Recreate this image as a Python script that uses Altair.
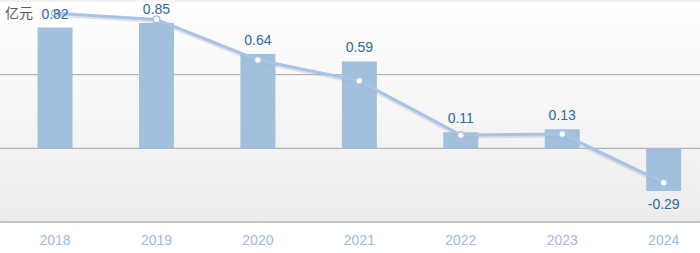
import altair as alt
import pandas as pd

years = ["2018", "2019", "2020", "2021", "2022", "2023", "2024"]
bar_values = [0.82, 0.85, 0.64, 0.59, 0.11, 0.13, -0.29]
line_values = [0.917, 0.875, 0.60, 0.458, 0.09, 0.097, -0.233]
labels = ["0.82", "0.85", "0.64", "0.59", "0.11", "0.13", "-0.29"]
grid_values = [0.5, 0.0, -0.5]
top_value = [1.0]
unit_label = "亿元"

df = pd.DataFrame({"year": years, "bar": bar_values, "line": line_values, "label": labels})
grid_df = pd.DataFrame({"g": grid_values})
top_df = pd.DataFrame({"g": top_value})

FONT = "Liberation Sans"

x_enc = alt.X(
    "year:N",
    sort=years,
    scale=alt.Scale(range=[4.3, 714.4], paddingInner=0.655, paddingOuter=0.3275),
    axis=alt.Axis(
        title=None, domain=False, ticks=False, labelAngle=0, labelPadding=11,
        labelBaseline="top", labelColor="#a2b9de", labelFontSize=14, labelFont=FONT,
    ),
)
y_scale = alt.Scale(domain=[-0.5, 1.0], nice=False, zero=False)
y_enc = alt.Y("bar:Q", scale=y_scale, axis=None)

base = alt.Chart(df)

bg = alt.Chart(top_df).mark_rect(
    color=alt.Gradient(
        gradient="linear",
        stops=[alt.GradientStop(color="#ffffff", offset=0), alt.GradientStop(color="#ececec", offset=1)],
        x1=0, x2=0, y1=0, y2=1,
    )
).encode(
    x=alt.value(0), x2=alt.value("width"),
    y=alt.Y("g:Q", scale=y_scale, axis=None), y2=alt.datum(-0.5),
)

top_rule = alt.Chart(top_df).mark_rule(color="#e6e6e6", strokeWidth=1).encode(
    y=alt.Y("g:Q", scale=y_scale, axis=None), x=alt.value(0), x2=alt.value("width")
)
grid = alt.Chart(grid_df).mark_rule(color="#a6a6a6", strokeWidth=1).encode(
    y=alt.Y("g:Q", scale=y_scale, axis=None), x=alt.value(0), x2=alt.value("width")
)

bars = base.mark_bar(color="#a0c0de").encode(x=x_enc, y=y_enc, y2=alt.datum(0))

line_shadow = base.mark_line(color="#b0b0b0", strokeWidth=3, opacity=0.35, yOffset=2).encode(
    x=x_enc, y=alt.Y("line:Q", scale=y_scale, axis=None)
)
line = base.mark_line(color="#a8c3ea", strokeWidth=3).encode(
    x=x_enc, y=alt.Y("line:Q", scale=y_scale, axis=None)
)
points = base.mark_point(filled=True, fill="white", stroke="#a8c3ea", strokeWidth=1.5, size=45, opacity=1).encode(
    x=x_enc, y=alt.Y("line:Q", scale=y_scale, axis=None)
)

pos_text = base.transform_filter(alt.datum.bar >= 0).mark_text(
    baseline="bottom", dy=-6, color="#2b6a9f", fontSize=14, font=FONT
).encode(x=x_enc, y=y_enc, text="label:N")
neg_text = base.transform_filter(alt.datum.bar < 0).mark_text(
    baseline="top", dy=7, color="#2b6a9f", fontSize=14, font=FONT
).encode(x=x_enc, y=y_enc, text="label:N")

unit = alt.Chart(pd.DataFrame({"t": [unit_label]})).mark_text(
    align="left", baseline="middle", color="#5a5a5a", fontSize=14, font="Noto Sans CJK SC"
).encode(x=alt.value(5), y=alt.value(13), text="t:N")

chart = alt.layer(
    bg, top_rule, grid, bars, line_shadow, line, points, pos_text, neg_text, unit
).properties(
    width=700, height=221,
    autosize=alt.AutoSizeParams(type="none"),
    padding={"left": 0, "top": 1, "right": 0, "bottom": 31},
).configure_view(stroke=None).configure(background="white")

chart.save("out.html", embed_options={"renderer": "svg", "actions": False})
